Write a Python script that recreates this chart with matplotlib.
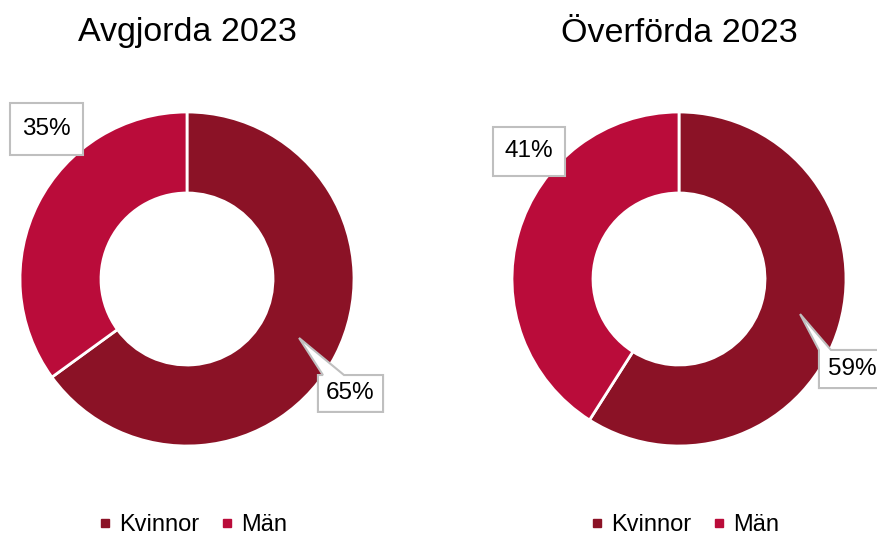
import matplotlib
matplotlib.use("Agg")
import matplotlib.pyplot as plt
from matplotlib.patches import Polygon
from matplotlib.lines import Line2D

# === data ===
categories = ["Kvinnor", "Män"]
titles = ["Avgjorda 2023", "Överförda 2023"]
avgjorda = [65, 35]
overforda = [59, 41]
colors = ["#8B1226", "#BA0C3A"]

plt.rcParams['font.family'] = ['Liberation Sans', 'DejaVu Sans']

W, H = 877, 535
R = 167          # outer radius in px
LIM = 1.2
fig = plt.figure(figsize=(W / 100, H / 100), dpi=100)

# label boxes (x0, x1, y_top, y_bottom) in radius units, callout (tip, base x0, base x1)
boxes = [
    [(-1.060, -0.623, 1.054, 0.743), (0.784, 1.174, -0.575, -0.796)],
    [(-1.114, -0.683, 0.910, 0.617), (0.838, 1.234, -0.425, -0.653)],
]
callouts = [
    [None, ((0.671, -0.353), 0.814, 0.940)],
    [None, ((0.725, -0.210), 0.838, 0.910)],
]
centers_x = [187, 679]
center_y = H - 279


def draw_label(ax, box, callout, text):
    x0, x1, yt, yb = box
    if callout is None:
        pts = [(x0, yt), (x1, yt), (x1, yb), (x0, yb)]
    else:
        tip, b0, b1 = callout
        pts = [(x0, yt), (b0, yt), tip, (b1, yt), (x1, yt), (x1, yb), (x0, yb)]
    ax.add_patch(Polygon(pts, closed=True, facecolor="white", edgecolor="#BFBFBF",
                         linewidth=1.5, zorder=5, clip_on=False))
    ax.text((x0 + x1) / 2, (yt + yb) / 2, text, ha="center", va="center",
            fontsize=17.5, color="black", zorder=6, clip_on=False)


for i, vals in enumerate([avgjorda, overforda]):
    size = 2 * LIM * R
    ax = fig.add_axes([(centers_x[i] - LIM * R) / W, (center_y - LIM * R) / H,
                       size / W, size / H])
    ax.pie(vals, colors=colors, startangle=90, counterclock=False, radius=1,
           wedgeprops=dict(width=0.485, edgecolor="white", linewidth=2))
    ax.set_xlim(-LIM, LIM)
    ax.set_ylim(-LIM, LIM)
    ax.set_aspect("equal")
    ax.axis("off")

    # Män label first, Kvinnor second
    draw_label(ax, boxes[i][0], callouts[i][0], f"{vals[1]}%")
    draw_label(ax, boxes[i][1], callouts[i][1], f"{vals[0]}%")

    fig.text(centers_x[i] / W, 1 - 33 / H, titles[i], ha="center", va="center",
             fontsize=24.5, color="black")

    handles = [Line2D([], [], marker="s", linestyle="none", markersize=6,
                      markerfacecolor=c, markeredgecolor=c) for c in colors]
    ax.legend(handles, categories, loc="center", bbox_to_anchor=(0.515, (10 - (center_y - LIM * R)) / size),
              ncol=2, frameon=False, fontsize=17, handlelength=0.5,
              handletextpad=0.35, columnspacing=0.9, borderaxespad=0)

fig.savefig("out.png", dpi=100)
